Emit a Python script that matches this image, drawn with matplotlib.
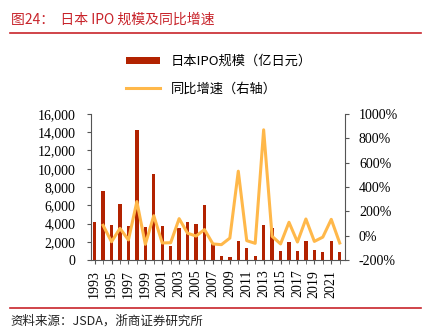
import matplotlib
matplotlib.use("Agg")
import matplotlib.pyplot as plt
import numpy as np
from matplotlib.ticker import FuncFormatter, MultipleLocator

plt.rcParams['font.family'] = ['Liberation Serif', 'Noto Sans CJK SC', 'DejaVu Sans']

years = list(range(1993, 2023))
ipo_size = [4200, 7600, 3800, 6100, 3750, 14200, 3600, 9400, 3700, 1500,
            3500, 4200, 4000, 6000, 1750, 470, 330, 2100, 1300, 440,
            3800, 3500, 950, 1930, 950, 2100, 1100, 900, 2100, 880]
growth_years = list(range(1994, 2023))
growth = [85, -50, 60, -35, 280, -71, 164, -60, -58, 140,
          20, -3, 50, -68, -74, -20, 530, -41, -63, 870,
          -5, -68, 110, -52, 137, -47, -12, 134, -60]
xtick_labels = [str(y) for y in range(1993, 2022, 2)]

bar_color = '#B22200'
line_color = '#FFB84A'
red = '#C8242B'

fig = plt.figure(figsize=(4.22, 3.33), dpi=100)
ax = fig.add_axes([0.2156, 0.2192, 0.602, 0.4385])
ax2 = ax.twinx()

ax.bar(years, ipo_size, width=0.4, color=bar_color, label='日本IPO规模（亿日元）')
ax2.plot(growth_years, growth, color=line_color, lw=2.2, label='同比增速（右轴）')

ax.set_xlim(1992.57, 2022.63)
ax.set_ylim(0, 16000)
ax2.set_ylim(-200, 1000)
ax.yaxis.set_major_locator(MultipleLocator(2000))
ax2.yaxis.set_major_locator(MultipleLocator(200))
ax.yaxis.set_major_formatter(FuncFormatter(lambda v, p: f'{int(v):,}'))
ax2.yaxis.set_major_formatter(FuncFormatter(lambda v, p: f'{int(v)}%'))

ax.set_xticks(list(range(1993, 2022, 2)))
ax.set_xticklabels(xtick_labels, rotation=90)
ax.set_xticks(years, minor=True)

spine_c = '#555555'
for a in (ax, ax2):
    a.spines['top'].set_visible(False)
    for s in ('left', 'right', 'bottom'):
        a.spines[s].set_color(spine_c)
    a.tick_params(colors='black', labelsize=10, length=3, width=0.8)
    a.tick_params(axis='both', color=spine_c)
ax.tick_params(axis='x', which='minor', length=3, color=spine_c)
ax.tick_params(axis='x', which='major', length=3, pad=4)
ax.tick_params(axis='y', pad=8)
ax2.tick_params(axis='y', pad=7)
ax.spines['right'].set_visible(False)
ax2.spines['left'].set_visible(False)
ax2.spines['bottom'].set_visible(False)

h1, l1 = ax.get_legend_handles_labels()
h2, l2 = ax2.get_legend_handles_labels()
fig.legend(h1 + h2, l1 + l2, loc='upper left', bbox_to_anchor=(0.27, 0.87),
           frameon=False, handlelength=2.6, handleheight=0.5, labelspacing=1.1,
           prop={'family': ['Noto Sans CJK SC'], 'size': 9.5})

fig.text(0.025, 0.94, '图24：  日本 IPO 规模及同比增速', color=red, fontsize=10,
         family=['Noto Sans CJK SC'], va='center')
fig.add_artist(plt.Line2D([0.024, 0.998], [0.901, 0.901], color=red, lw=1.2))
fig.add_artist(plt.Line2D([0.024, 0.998], [0.076, 0.076], color=red, lw=1.2))
fig.text(0.025, 0.035, '资料来源：JSDA，浙商证券研究所', color='#222222', fontsize=9,
         family=['Noto Sans CJK SC'], va='center')

fig.savefig('out.png', dpi=100)
